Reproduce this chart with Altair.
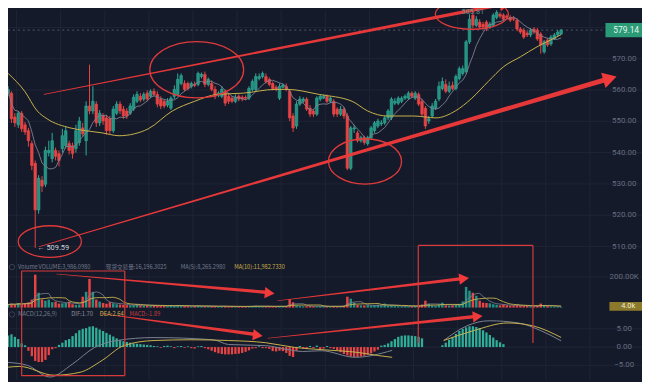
import altair as alt
import pandas as pd

# ---------------- data ----------------
OPEN = [559.0,559.0,551.4,548.9,552.6,548.9,547.0,542.9,536.6,521.7,
        531.2,529.9,540.0,538.1,540.7,539.7,541.3,542.2,542.9,542.2,
        541.3,543.2,547.9,543.8,554.9,553.3,555.5,549.5,551.7,551.1,
        550.8,547.0,552.6,555.5,553.9,553.3,552.6,553.9,556.4,558.0,
        557.1,559.0,558.0,559.6,558.6,557.1,556.4,555.2,554.2,558.0,
        558.6,562.1,562.1,562.1,561.2,561.8,561.8,564.3,565.0,561.8,
        562.1,560.2,558.3,558.0,559.6,558.0,557.4,556.4,558.0,557.7,
        557.7,557.4,560.2,560.2,563.7,564.3,564.3,563.4,562.1,560.9,
        557.4,560.9,561.2,559.6,551.7,548.5,555.5,556.4,557.1,554.2,
        553.3,552.3,557.1,557.4,558.0,556.4,556.4,553.9,552.3,553.9,
        551.7,535.0,547.6,546.3,543.8,544.8,542.9,544.8,547.0,548.5,
        549.2,549.5,551.1,551.1,555.8,555.8,556.4,557.4,557.4,559.0,
        557.4,558.6,556.4,554.2,550.1,551.7,554.2,557.1,560.5,561.8,
        559.6,561.5,560.5,563.7,565.3,565.9,575.4,583.9,580.7,581.7,
        581.0,581.7,580.1,580.7,583.2,584.2,583.9,583.6,583.2,582.9,
        582.3,579.5,579.1,578.2,577.6,579.5,579.1,577.9,572.2,576.0,
        574.7,576.3,577.6,577.9]
CLOSE = [560.2,550.8,549.5,552.6,547.6,546.6,543.8,535.9,521.7,531.8,
         529.3,540.7,540.7,543.8,538.8,537.5,545.4,547.0,540.7,539.7,
         547.0,550.1,546.0,554.9,553.3,556.4,549.5,552.6,550.1,547.0,
         547.0,553.9,555.5,553.3,551.7,551.7,554.9,557.7,558.6,556.8,
         558.6,557.1,559.6,558.6,555.5,554.9,554.9,556.4,557.4,560.2,
         563.4,564.6,560.2,560.5,562.1,561.5,565.3,565.0,561.8,563.4,
         560.2,558.0,559.0,560.2,555.8,556.4,556.4,557.7,557.1,557.1,
         557.4,560.5,562.7,564.3,564.3,565.3,562.7,561.8,560.5,560.2,
         561.2,561.5,560.2,551.1,547.9,555.5,557.1,557.1,553.9,552.3,
         552.3,557.4,558.0,558.0,556.4,557.4,552.3,552.3,553.9,551.7,
         535.0,547.9,547.9,543.8,544.8,543.2,544.8,547.9,549.5,550.1,
         549.5,551.1,553.3,557.1,556.4,557.4,557.4,558.0,559.0,558.0,
         559.0,555.5,552.3,548.5,550.8,554.9,556.4,561.2,562.7,559.6,
         561.2,560.5,564.3,566.8,566.8,575.4,582.6,580.7,582.6,580.1,
         580.1,579.5,581.0,583.9,584.8,583.6,582.6,583.2,582.3,582.6,
         579.5,578.5,576.9,577.6,579.1,578.5,576.3,574.4,575.4,574.4,
         576.9,577.6,578.5,579.14]
HIGH = [561.2,559.6,552.6,553.3,553.3,549.8,547.9,543.8,537.5,532.8,
        532.5,541.9,543.8,546.3,541.6,540.7,547.6,548.5,543.8,543.2,
        548.9,551.4,549.5,556.4,568.1,561.2,556.4,553.6,552.6,552.0,
        551.7,554.9,556.4,556.4,554.9,554.2,555.8,558.6,559.6,559.0,
        559.3,559.9,560.2,560.5,559.6,558.0,557.1,557.4,558.0,561.5,
        565.3,565.3,563.1,562.7,562.7,562.7,565.9,565.6,565.9,564.0,
        563.1,561.2,559.6,561.2,560.2,559.0,558.0,558.6,558.6,558.3,
        558.3,561.2,563.4,565.3,565.3,565.9,565.3,564.0,562.7,561.5,
        562.1,562.1,562.1,560.2,552.6,556.4,558.0,557.7,557.7,555.2,
        553.9,558.0,558.6,558.6,558.6,558.0,557.1,554.5,554.9,554.5,
        552.6,548.5,548.9,547.0,545.4,545.4,545.4,548.5,550.1,550.8,
        550.4,551.7,553.9,557.7,557.4,558.0,558.0,558.6,559.6,559.6,
        559.6,559.3,557.1,554.9,551.7,555.8,557.1,562.7,564.0,563.4,
        562.7,562.7,565.0,567.5,567.8,576.0,584.2,585.81,583.6,582.6,
        581.7,582.3,581.7,584.5,585.5,584.8,584.5,584.2,583.9,583.6,
        582.9,580.1,579.8,578.8,579.8,580.1,579.8,578.5,576.0,576.6,
        577.6,578.2,579.1,579.5]
LOW = [558.0,549.5,548.2,547.9,546.6,545.7,541.9,534.4,509.59,520.5,
       527.4,529.0,538.8,536.9,537.5,535.6,540.0,541.3,539.4,538.1,
       540.0,542.2,545.1,539.1,552.3,552.3,548.2,548.5,548.9,545.7,
       546.0,546.3,552.0,552.3,550.8,550.8,552.0,553.3,555.8,556.1,
       556.4,556.4,557.4,558.0,554.5,553.9,554.2,554.5,553.6,557.1,
       558.0,561.5,559.6,559.9,560.5,560.9,561.2,563.7,560.9,561.2,
       559.6,557.1,557.7,557.4,554.9,555.5,555.8,555.8,556.4,556.4,
       556.8,556.8,559.6,559.6,563.1,563.7,562.1,561.2,559.9,559.6,
       556.8,560.5,559.6,550.1,546.6,547.6,554.9,555.8,553.3,551.4,
       551.4,551.7,556.4,557.1,555.8,555.8,551.4,551.4,551.7,550.8,
       534.4,534.4,546.3,543.2,543.2,542.5,542.2,544.1,546.3,547.9,
       548.5,548.9,550.4,550.4,555.2,555.2,555.8,556.8,556.8,557.4,
       556.8,554.9,551.7,547.6,549.2,551.1,553.6,556.4,559.9,559.0,
       559.0,559.9,559.9,563.1,564.6,565.3,574.7,579.8,580.1,579.5,
       579.5,578.8,579.5,580.1,582.6,582.9,582.0,582.6,581.7,582.0,
       578.8,577.9,576.3,576.9,576.9,577.9,575.7,571.6,571.6,573.8,
       574.1,576.0,577.3,577.6]
VOLUME_K = [20,25,20,30,25,28,35,52,215,97,
            52,45,52,35,38,26,28,30,38,22,
            18,20,71,103,187,103,52,39,30,25,
            35,28,22,20,18,15,14,16,20,15,
            13,14,12,15,12,10,12,11,14,12,
            16,12,10,9,8,10,12,9,8,10,
            9,8,7,9,8,7,8,6,7,8,
            7,9,10,12,9,8,7,8,6,7,
            9,8,10,55,35,15,10,8,9,10,
            8,7,9,8,7,6,10,8,9,12,
            71,58,32,18,15,14,16,12,15,18,
            14,26,12,15,10,9,8,9,7,8,
            10,14,20,45,25,15,12,18,32,14,
            12,15,20,25,40,135,110,97,77,45,
            32,30,28,22,18,15,20,15,12,14,
            15,12,10,11,9,8,12,26,14,10,
            8,7,6,4]
MACD_HIST = [3.2,3.5,2.8,2.2,1.0,0.5,-1.0,-2.5,-3.8,-4.1,
             -4.1,-3.5,-2.2,-0.6,-0.3,0.6,1.2,1.9,2.2,3.0,
             3.8,4.6,5.0,5.2,5.6,5.7,5.3,4.8,4.4,3.9,
             3.4,2.9,2.4,1.9,1.6,1.4,1.2,1.0,0.9,0.8,
             0.7,0.6,0.5,0.3,0.2,-0.2,0.3,0.4,0.2,-0.3,
             0.2,0.3,-0.2,0.2,-0.3,-0.4,0.2,0.3,-0.3,-0.6,
             -1.0,-1.4,-1.7,-1.9,-2.0,-2.0,-2.0,-1.9,-1.8,-1.6,
             -1.3,-0.9,-0.4,-0.3,0.2,-0.3,-0.3,-0.5,-1.1,-1.2,
             -1.0,-1.1,-1.6,-2.4,-2.7,-1.0,0.3,-0.4,-0.5,0.3,
             -0.3,0.4,-0.6,-0.4,0.3,-0.3,-0.5,-0.8,-1.4,-1.9,
             -2.3,-2.6,-2.7,-2.7,-2.6,-2.4,-2.1,-1.7,-1.2,-0.7,
             0.4,0.6,1.0,1.6,2.2,2.8,3.1,3.2,3.2,3.1,
             3.0,2.8,2.4,0.0,0.0,0.0,0.0,0.0,0.5,1.2,
             2.0,2.8,3.6,4.4,5.0,5.4,5.7,5.7,5.5,5.2,
             4.6,4.0,3.3,2.6,1.9,1.3,0.8,0.0,0.0,0.0,
             0.0,0.0,0.0,0.0,0.0,0.0,0.0,0.0,0.0,0.0,
             0.0,0.0,0.0,0.0]

# slow price MA (yellow), read as sample points
MA_SLOW_I = [0,4.9,8.6,11.5,18.3,22.9,27.8,32.7,37.2,41.3,48.4,55.0,61.6,69.3,78.8,
             82.2,91.7,101.4,106.0,111.7,119.5,126.1,131.8,136.7,141.5,146.1,151.0,155.9,160.5,163.0]
MA_SLOW_V = [565.3,559.6,553.3,550.8,547.9,547.0,546.3,545.4,546.0,547.6,553.3,556.4,558.6,559.0,560.2,
             560.2,558.6,556.4,553.3,551.7,551.7,551.1,553.3,557.4,562.7,567.5,570.6,573.8,576.3,577.7]
# MACD lines (the reference shows a break between ~113 and ~128)
DIF_SEG = [0]*15 + [1]*6
DIF_I = [0,5.7,12.3,18.9,25.5,32.1,43,60.5,65,75.9,82.5,86.8,92.3,102.3,113.2,
         128.4,135.2,141.8,150.4,157,163]
DIF_V = [-4.2,-5.0,-8.2,-4.7,-0.1,1.8,2.6,2.0,0.7,0.4,-0.7,-1.2,-1.0,-2.8,-0.9,
         1.8,5.8,7.2,6.6,4.5,1.70]
DEA_SEG = [0]*15 + [1]*5
DEA_I = [0,3.4,13.5,21.2,27.8,34.1,43,53.9,65,75.9,84.5,92.3,103.4,108.9,113.2,
         128.4,137.2,147.3,154.7,163]
DEA_V = [-5.5,-5.3,-7.7,-6.9,-3.6,0.4,1.8,2.0,1.8,1.2,-0.1,-0.7,-1.5,-2.3,-2.8,
         1.8,4.5,6.6,5.8,2.64]

PRICE_TICKS = [510, 520, 530, 540, 550, 560, 570]
VOL_TICKS = [200]
MACD_TICKS = [5, 0, -5]
GRID_I = [2.5, 15.5, 28.5, 41.5, 54.5, 67.5, 80.5, 93.5, 106.5, 119.5, 132.5, 145.5, 158.5, 171.5]
LAST_PRICE = 579.14
LAST_VOL_LABEL = "4.0k"

# annotations (candle index, value, width)
TRAIL_PRICE = [("up", 10.6, 558.6, 0.7), ("up", 145.8, 587.4, 3.6),
               ("low", 9.2, 510.0, 0.7), ("low", 175.4, 563.1, 5.0)]
HEAD_PRICE = [(146.5, 587.5, 349.1, 170), (177.4, 563.7, 343.8, 260)]
TRAIL_LOWER = [("a1", 14.3, 219, 0.6), ("a1", 75.9, 100, 3.4),
               ("a2", 27.2, -39, 0.6), ("a2", 72.5, -174, 3.4),
               ("a3", 79.4, 45, 0.6), ("a3", 133.2, 187, 3.4),
               ("a4", 76.5, -200, 0.6), ("a4", 137.8, -58, 3.4)]
HEAD_LOWER = [(77.1, 95, 5.1, 130), (73.6, -181, 7.5, 130), (134.4, 190, 353.1, 130), (138.4, -58, 354.1, 130)]
ELLIPSES = [(55.6, 566.5, 0.6, 9025), (136.7, 584.2, 0.41, 5476), (105.2, 537.2, 0.62, 5476), (12.3, 511.6, 0.5, 4096)]
FRAMES = [(4.0, 4.0, 239, -445), (34.4, 34.4, 239, -445), (4.0, 34.4, 239, 239), (4.0, 34.4, -445, -445),
          (120.9, 120.9, 406, -232), (154.7, 154.7, 406, -232), (120.9, 154.7, 406, 406)]

# ---------------- style ----------------
W, H = 642, 374
BG = "#151a2b"
GRID = "#1f2536"
UP = "#239183"
UP_LINE = "#2fae98"
DOWN = "#e84444"
RED = "#f23a3a"
TXT = "#656d7f"
LEG = "#717a8c"
GREY_MA = "#7d8290"
YELLOW = "#c8b24a"
FONT = "Roboto"

xs = alt.Scale(domain=[1.433, 185.387], nice=False, zero=False)
ps = alt.Scale(domain=[467.476, 585.457], nice=False, zero=False)
vs = alt.Scale(domain=[-470.85, 1941.45], nice=False, zero=False)
ms = alt.Scale(domain=[-8.919, 92.16], nice=False, zero=False)
X = alt.X("i:Q", scale=xs, axis=None)
is_up = "datum.close >= datum.open"

df = pd.DataFrame({"i": list(range(len(CLOSE))), "open": OPEN, "high": HIGH, "low": LOW,
                   "close": CLOSE, "vol": VOLUME_K, "hist": MACD_HIST})
col = alt.condition(is_up, alt.value(UP), alt.value(DOWN))
col_line = alt.condition(is_up, alt.value(UP_LINE), alt.value(DOWN))
base = alt.Chart(df)

layers = []
# grid
layers.append(alt.Chart(pd.DataFrame({"i": GRID_I})).mark_rule(color=GRID, strokeWidth=1).encode(
    x=X, y=alt.value(0), y2=alt.value(H)))
layers.append(alt.Chart(pd.DataFrame({"p": PRICE_TICKS + [580]})).mark_rule(color=GRID, strokeWidth=1).encode(
    y=alt.Y("p:Q", scale=ps, axis=None), x=alt.value(0), x2=alt.value(W)))
layers.append(alt.Chart(pd.DataFrame({"v": VOL_TICKS})).mark_rule(color=GRID, strokeWidth=1).encode(
    y=alt.Y("v:Q", scale=vs, axis=None), x=alt.value(0), x2=alt.value(W)))
layers.append(alt.Chart(pd.DataFrame({"m": MACD_TICKS})).mark_rule(color=GRID, strokeWidth=1).encode(
    y=alt.Y("m:Q", scale=ms, axis=None), x=alt.value(0), x2=alt.value(W)))
# last price dotted line
layers.append(alt.Chart(pd.DataFrame({"p": [LAST_PRICE]})).mark_rule(color="#4e5868", strokeWidth=1, strokeDash=[2, 3]).encode(
    y=alt.Y("p:Q", scale=ps, axis=None), x=alt.value(0), x2=alt.value(605)))

# candles
layers.append(base.mark_rule(strokeWidth=1).encode(
    x=X, y=alt.Y("low:Q", scale=ps, axis=None), y2="high:Q", color=col_line))
layers.append(base.mark_bar(width=2.6, strokeWidth=0.6).encode(
    x=X, y=alt.Y("open:Q", scale=ps, axis=None), y2="close:Q", fill=col, stroke=col_line))
# moving averages
layers.append(base.transform_window(ma="mean(close)", frame=[-6, 0], sort=[{"field": "i"}]).mark_line(
    color=GREY_MA, strokeWidth=1, opacity=0.9).encode(x=X, y=alt.Y("ma:Q", scale=ps, axis=None)))
layers.append(alt.Chart(pd.DataFrame({"i": MA_SLOW_I, "v": MA_SLOW_V})).mark_line(
    color=YELLOW, strokeWidth=1, interpolate="monotone").encode(x=X, y=alt.Y("v:Q", scale=ps, axis=None)))

# volume
layers.append(base.mark_bar(width=2.5).encode(
    x=X, y=alt.Y("vol:Q", scale=vs, axis=None), y2=alt.datum(0), color=col))
layers.append(base.transform_window(m5="mean(vol)", frame=[-4, 0], sort=[{"field": "i"}]).mark_line(
    color=GREY_MA, strokeWidth=1, opacity=0.8).encode(x=X, y=alt.Y("m5:Q", scale=vs, axis=None)))
layers.append(base.transform_window(m10="mean(vol)", frame=[-9, 0], sort=[{"field": "i"}]).mark_line(
    color=YELLOW, strokeWidth=1, opacity=0.9).encode(x=X, y=alt.Y("m10:Q", scale=vs, axis=None)))

# MACD
layers.append(base.transform_filter("datum.hist != 0").mark_bar(width=2.3).encode(
    x=X, y=alt.Y("hist:Q", scale=ms, axis=None), y2=alt.datum(0),
    color=alt.condition("datum.hist >= 0", alt.value(UP_LINE), alt.value(DOWN))))
layers.append(alt.Chart(pd.DataFrame({"i": DIF_I, "v": DIF_V, "s": DIF_SEG})).mark_line(
    color=GREY_MA, strokeWidth=1, interpolate="monotone").encode(
    x=X, y=alt.Y("v:Q", scale=ms, axis=None), detail="s:N"))
layers.append(alt.Chart(pd.DataFrame({"i": DEA_I, "v": DEA_V, "s": DEA_SEG})).mark_line(
    color=YELLOW, strokeWidth=1, interpolate="monotone").encode(
    x=X, y=alt.Y("v:Q", scale=ms, axis=None), detail="s:N"))

# annotations
tp = pd.DataFrame(TRAIL_PRICE, columns=["g", "i", "v", "w"])
layers.append(alt.Chart(tp).mark_trail(color=RED, opacity=0.95).encode(
    x=X, y=alt.Y("v:Q", scale=ps, axis=None), size=alt.Size("w:Q", scale=None, legend=None), detail="g:N"))
hp = pd.DataFrame(HEAD_PRICE, columns=["i", "v", "a", "s"])
layers.append(alt.Chart(hp).mark_point(shape="triangle-right", filled=True, color=RED, opacity=1).encode(
    x=X, y=alt.Y("v:Q", scale=ps, axis=None), angle=alt.Angle("a:Q", scale=None),
    size=alt.Size("s:Q", scale=None, legend=None)))
tl = pd.DataFrame(TRAIL_LOWER, columns=["g", "i", "v", "w"])
layers.append(alt.Chart(tl).mark_trail(color=RED, opacity=0.95).encode(
    x=X, y=alt.Y("v:Q", scale=vs, axis=None), size=alt.Size("w:Q", scale=None, legend=None), detail="g:N"))
hl = pd.DataFrame(HEAD_LOWER, columns=["i", "v", "a", "s"])
layers.append(alt.Chart(hl).mark_point(shape="triangle-right", filled=True, color=RED, opacity=1).encode(
    x=X, y=alt.Y("v:Q", scale=vs, axis=None), angle=alt.Angle("a:Q", scale=None),
    size=alt.Size("s:Q", scale=None, legend=None)))
el = pd.DataFrame(ELLIPSES, columns=["i", "v", "r", "s"])
el["path"] = [f"M -1 0 A 1 {r} 0 1 0 1 0 A 1 {r} 0 1 0 -1 0 Z" for r in el["r"]]
layers.append(alt.Chart(el).mark_point(filled=False, color="#e03a3a", strokeWidth=1.3, opacity=1).encode(
    x=X, y=alt.Y("v:Q", scale=ps, axis=None), shape=alt.Shape("path:N", scale=None, legend=None),
    size=alt.Size("s:Q", scale=None, legend=None)))
fr = pd.DataFrame(FRAMES, columns=["i", "i2", "v", "v2"])
layers.append(alt.Chart(fr).mark_rule(color="#d63a3a", strokeWidth=1.2).encode(
    x=X, x2="i2:Q", y=alt.Y("v:Q", scale=vs, axis=None), y2="v2:Q"))

# right axis labels
layers.append(alt.Chart(pd.DataFrame({"p": PRICE_TICKS})).mark_text(
    color=TXT, fontSize=8, font=FONT, align="center").encode(
    y=alt.Y("p:Q", scale=ps, axis=None), x=alt.value(624), text=alt.Text("p:Q", format=".2f")))
layers.append(alt.Chart(pd.DataFrame({"v": VOL_TICKS})).mark_text(
    color=TXT, fontSize=8, font=FONT, align="center").encode(
    y=alt.Y("v:Q", scale=vs, axis=None), x=alt.value(624), text=alt.value("200.00K")))
layers.append(alt.Chart(pd.DataFrame({"m": MACD_TICKS})).mark_text(
    color=TXT, fontSize=8, font=FONT, align="center").encode(
    y=alt.Y("m:Q", scale=ms, axis=None), x=alt.value(624), text=alt.Text("m:Q", format=".2f")))

# last price box
lp = pd.DataFrame({"p": [LAST_PRICE]})
layers.append(alt.Chart(lp).transform_calculate(a="datum.p + 2.25", b="datum.p - 2.25").mark_rect(
    color="#2a9a77").encode(x=alt.value(605), x2=alt.value(642), y=alt.Y("a:Q", scale=ps, axis=None), y2="b:Q"))
layers.append(alt.Chart(lp).mark_text(color="#e8f5ef", fontSize=8.5, font=FONT, align="center").encode(
    x=alt.value(626), y=alt.Y("p:Q", scale=ps, axis=None), text=alt.Text("p:Q", format=".2f")))
lv = pd.DataFrame({"v": [0]})
layers.append(alt.Chart(lv).transform_calculate(a="datum.v + 36", b="datum.v - 20").mark_rect(
    color="#8c7a2c").encode(x=alt.value(609), x2=alt.value(642), y=alt.Y("a:Q", scale=vs, axis=None), y2="b:Q"))
layers.append(alt.Chart(lv).transform_calculate(y="datum.v + 8").mark_text(
    color="#f2ecd0", fontSize=7.5, font=FONT, align="center").encode(
    x=alt.value(628), y=alt.Y("y:Q", scale=vs, axis=None), text=alt.value(LAST_VOL_LABEL)))

# extreme labels
layers.append(alt.Chart(pd.DataFrame({"i": [8], "p": [min(LOW)]})).mark_text(
    color="#c9d2dc", fontSize=7.5, font=FONT, align="left", dx=2).encode(
    x=X, y=alt.Y("p:Q", scale=ps, axis=None), text=alt.value("← 509.59")))
layers.append(alt.Chart(pd.DataFrame({"i": [137]})).mark_text(
    color="#5f8f88", fontSize=7.5, font=FONT, align="center").encode(
    x=X, y=alt.value(2), text=alt.value("585.81")))

# panel legends
LEGEND_VOL = [("Volume", 10, LEG), ("VOLUME:3,986.0980", 31, LEG), ("现货交易量:16,196.3025", 99, LEG),
              ("MA(5):8,265.2980", 175, LEG), ("MA(10):11,982.7330", 229, YELLOW)]
LEGEND_MACD = [("MACD(12,26,9)", 10, LEG), ("DIF:1.70", 64, "#8b8f9a"), ("DEA:2.64", 93, YELLOW),
               ("MACD:-1.89", 123, "#c03c3c")]
for txt, px, c in LEGEND_VOL:
    layers.append(alt.Chart(pd.DataFrame({"t": [txt]})).mark_text(
        color=c, fontSize=5.7, font="Noto Sans CJK SC", align="left").encode(
        x=alt.value(px), y=alt.value(260), text="t:N"))
for txt, px, c in LEGEND_MACD:
    layers.append(alt.Chart(pd.DataFrame({"t": [txt]})).mark_text(
        color=c, fontSize=5.9, font="Noto Sans CJK SC", align="left").encode(
        x=alt.value(px), y=alt.value(308), text="t:N"))
for py in (260, 308):
    layers.append(alt.Chart(pd.DataFrame({"k": [0]})).mark_point(
        shape="circle", filled=False, color="#4a5262", size=30, strokeWidth=1).encode(
        x=alt.value(4), y=alt.value(py)))

chart = alt.layer(*layers).resolve_scale(y="independent").properties(
    width=W, height=H, background=BG, padding=0,
    autosize=alt.AutoSizeParams(type="none")
).configure_view(stroke=None)

chart.save("out.html", embed_options={"renderer": "svg", "actions": False})
